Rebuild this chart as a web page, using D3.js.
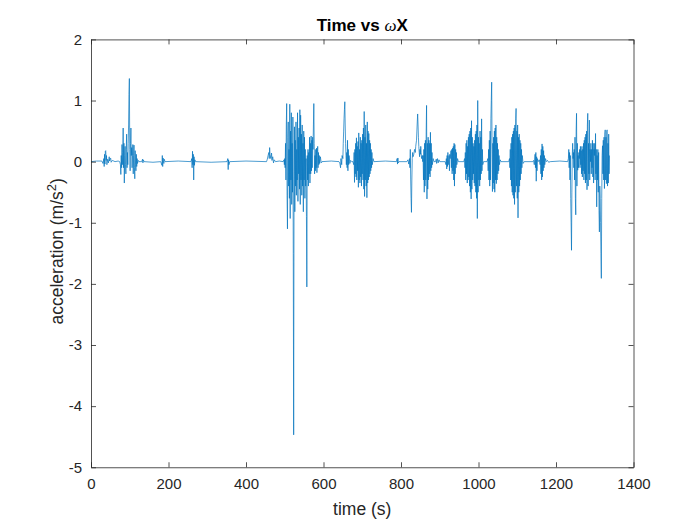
<!DOCTYPE html>
<html>
<head>
<meta charset="utf-8">
<script src="https://cdn.jsdelivr.net/npm/d3@7"></script>
<style>
  body { margin: 0; background: #fff; }
  svg { display: block; font-family: "Liberation Sans", Arial, Helvetica, sans-serif; }
</style>
</head>
<body>
<div id="chart"></div>
<script>
// axis ticks
const xTicks = [0, 200, 400, 600, 800, 1000, 1200, 1400];
const yTicks = [-5, -4, -3, -2, -1, 0, 1, 2];

// [time (s), omegaX], one array per burst of motion
const lead = [[0, 0], [14, 0.01], [28, 0.01], [31, -0.03], [33, 0.05], [34, -0.08], [35, 0.12], [36, -0.04],
  [37, 0.17], [38, 0.18], [39, 0.02], [40, 0.1], [41, -0.05], [43, 0.04], [45, -0.02], [47, 0.08], [48, 0.01],
  [50, 0.06], [51, 0.05], [52, -0.01], [55, 0.02], [62, 0], [70, 0.01]];

const burstA = [[74, 0], [76, -0.05], [77, -0.21], [78, 0.1], [79, -0.1], [80, 0.28], [81, -0.05], [82, 0.15],
  [83, 0.55], [84, -0.1], [85, 0.3], [86, -0.35], [87, 0.1], [88, 0.25], [89, -0.05], [90, -0.2], [91, 0.2],
  [92, 0.45], [93, -0.1], [94, 0.15], [95, -0.05], [96, 0.3], [97, 0.6], [98, 1.1], [99, 1.36], [100, 0.2],
  [101, -0.15], [102, 0.3], [103, 0.55], [104, 0.1], [105, 0.23], [106, -0.1], [107, 0.1], [108, 0.28],
  [109, -0.2], [110, 0.1], [111, 0.27], [112, -0.1], [113, -0.28], [114, 0.18], [115, -0.05], [116, -0.15],
  [117, 0.12], [118, -0.08], [119, 0.05], [120, -0.03], [122, 0.02], [124, 0]];

const smallBlips = [[131, 0], [133, 0.04], [134, -0.02], [135, 0.03], [137, 0], [160, -0.01],
  [180, 0], [183, -0.06], [184, 0.1], [185, -0.08], [186, 0.06], [187, 0.02], [188, -0.03], [189, 0.04], [191, 0],
  [225, 0.01], [258, 0], [260, 0.05], [261, -0.1], [262, 0.17], [263, -0.05], [264, 0.12], [265, -0.3],
  [266, 0.08], [267, -0.06], [268, 0.03], [270, 0], [310, -0.01],
  [351, 0], [353, 0.05], [354, -0.13], [355, 0.03], [356, -0.05], [358, 0], [400, 0.01],
  [453, 0], [455, 0.04], [457, 0.1], [459, 0.15], [460, 0.05], [461, 0.23], [462, 0.12], [464, 0.05],
  [466, 0.14], [467, 0.02], [469, 0.08], [471, -0.02], [473, 0.03], [476, 0], [486, 0.01]];

const burstB = [[496, 0], [498, 0.03], [499, -0.05], [500, 0.05], [501, -0.1], [502, 0.3], [503, -0.3],
  [504, 0.6], [505, 0.95], [506, -0.55], [507, -1.1], [508, 0.4], [509, 0.65], [510, -0.4], [511, 0.2],
  [512, -0.6], [513, 0.94], [514, -0.93], [515, 0.5], [516, -0.3], [517, 0.8], [518, -0.7], [519, 0.3],
  [520, -0.5], [521, 0.73], [522, -1.5], [523, -4.47], [524, -0.3], [525, 0.57], [526, -0.82], [527, 0.35],
  [528, -0.4], [529, 0.65], [530, -0.55], [531, 0.2], [532, -0.3], [533, 0.8], [534, -0.65], [535, 0.4],
  [536, -0.2], [537, 0.55], [538, -0.45], [539, 0.85], [540, -0.7], [541, 0.76], [542, -0.3], [543, 0.45],
  [544, -0.55], [545, 0.6], [546, -0.4], [547, 0.3], [548, -0.82], [549, 0.5], [550, -0.3], [551, 0.4],
  [552, -0.6], [553, 0.2], [554, -0.4], [555, 0.05], [556, -0.9], [557, -2.05], [558, 0.1], [559, -0.3],
  [560, 0.2], [561, -0.4], [562, 0.15], [563, -0.2], [564, 0.4], [565, -0.35], [566, 0.3], [567, -0.2],
  [568, 0.42], [569, -0.15], [570, 0.35], [571, -0.1], [572, 0.4], [573, 0.2], [574, 0.6], [575, 0.95],
  [576, 0.3], [577, -0.2], [578, 0.1], [579, -0.15], [580, 0.2], [581, -0.1], [582, 0.22], [583, -0.18],
  [584, 0.1], [585, 0.25], [586, -0.1], [587, 0.15], [588, -0.05], [589, 0.1], [590, -0.03], [592, 0.08],
  [594, -0.02], [596, 0], [620, 0.01]];

const burstC = [[640, 0], [642, -0.02], [644, -0.1], [645, 0.05], [647, -0.05], [648, 0.1], [650, 0.05],
  [651, 0.3], [652, 0.5], [653, 0.7], [654, 0.85], [655, 0.98], [656, 0.6], [657, 0.3], [658, 0.1],
  [659, -0.05], [660, 0.15], [661, -0.1], [662, 0.35], [663, -0.15], [664, 0.2], [665, -0.05], [666, 0.1],
  [668, -0.03], [670, 0.02], [673, 0], [676, 0], [678, -0.05], [679, 0.15], [680, -0.34], [681, 0.2],
  [682, -0.2], [683, 0.3], [684, -0.25], [685, 0.39], [686, -0.3], [687, 0.25], [688, -0.15], [689, 0.33],
  [690, -0.42], [691, 0.47], [692, -0.3], [693, 0.2], [694, -0.35], [695, 0.4], [696, -0.25], [697, 0.3],
  [698, -0.4], [699, 0.35], [700, -0.2], [701, 0.45], [702, -0.3], [703, 0.55], [704, -0.45], [705, 0.82],
  [706, -0.57], [707, 0.4], [708, -0.3], [709, 0.6], [710, -0.4], [711, 0.3], [712, -0.59], [713, 0.65],
  [714, -0.35], [715, 0.5], [716, -0.3], [717, 0.46], [718, -0.25], [719, 0.35], [720, -0.2], [721, 0.3],
  [722, -0.15], [723, 0.2], [724, -0.1], [725, 0.15], [726, -0.05], [728, 0.05], [730, 0], [760, 0.01],
  [788, 0], [790, 0.05], [791, -0.04], [792, 0.06], [793, -0.02], [795, 0]];

const burstD = [[815, 0], [818, 0.03], [820, -0.04], [822, 0.05], [823, -0.1], [824, 0.2], [825, -0.3],
  [826, -0.6], [827, -0.83], [828, -0.3], [829, 0.05], [830, 0.15], [831, 0.08], [833, 0.12], [835, 0.2],
  [837, 0.15], [838, 0.25], [840, 0.35], [841, 0.5], [842, 0.65], [843, 0.78], [844, 0.6], [845, 0.4],
  [846, 0.25], [847, 0.15], [848, 0.08], [849, 0.2], [850, 0.12], [851, 0.25], [852, 0.15], [853, 0.05],
  [855, 0.1], [856, 0], [857, 0.1], [858, -0.3], [859, 0.2], [860, -0.5], [861, 0.3], [862, -0.4],
  [863, 0.35], [864, -0.3], [865, 0.5], [866, 0.92], [867, -0.61], [868, 0.3], [869, -0.45], [870, 0.4],
  [871, -0.3], [872, 0.35], [873, -0.2], [874, 0.3], [875, -0.25], [876, 0.48], [877, -0.15], [878, 0.3],
  [879, -0.1], [880, 0.15], [881, -0.05], [883, 0.05], [885, 0],
  [889, 0], [891, 0.04], [892, -0.03], [894, 0.05], [896, -0.02], [898, 0.03], [900, 0],
  [914, 0], [916, -0.05], [917, 0.05], [918, -0.12], [919, 0.1], [920, -0.08], [921, 0.15], [922, -0.05],
  [924, 0.1], [925, -0.15], [926, 0.12], [927, 0.05], [929, 0.18], [930, -0.1], [931, 0.2], [932, -0.2],
  [933, 0.22], [934, -0.15], [935, 0.25], [936, -0.3], [937, 0.3], [938, -0.4], [939, 0.28], [940, -0.2],
  [941, 0.2], [942, -0.1], [943, 0.15], [944, -0.05], [946, 0.05], [948, 0]];

const burstE = [[962, 0], [964, 0.05], [965, -0.1], [966, 0.15], [967, -0.3], [968, 0.3], [969, -0.2],
  [970, 0.35], [971, -0.35], [972, 0.25], [973, -0.3], [974, 0.4], [975, -0.25], [976, 0.45], [977, -0.4],
  [978, 0.5], [979, -0.5], [980, 0.55], [981, -0.61], [982, 0.67], [983, -0.45], [984, 0.4], [985, -0.3],
  [986, 0.3], [987, -0.2], [988, 0.25], [989, -0.35], [990, 0.35], [991, -0.4], [992, 0.45], [993, -0.5],
  [994, 0.5], [995, -0.6], [996, 0.6], [997, -0.93], [998, 1.0], [999, -0.5], [1000, 0.4], [1001, -0.3],
  [1002, 0.3], [1003, -0.4], [1004, 0.5], [1005, -0.3], [1006, 0.4], [1007, -0.2], [1008, 0.7],
  [1009, -0.15], [1010, 0.2], [1011, -0.05], [1013, 0],
  [1022, 0], [1024, 0.05], [1025, -0.15], [1026, 0.2], [1027, -0.3], [1028, 0.35], [1029, -0.4],
  [1030, 0.5], [1031, -0.3], [1032, 0.7], [1033, 1.0], [1034, 1.3], [1035, 0.2], [1036, -0.49], [1037, 0.3],
  [1038, -0.35], [1039, 0.4], [1040, -0.45], [1041, 0.5], [1042, -0.5], [1043, 0.55], [1044, -0.3],
  [1045, 0.6], [1046, -0.36], [1047, 0.4], [1048, -0.3], [1049, 0.3], [1050, -0.2], [1051, 0.2],
  [1052, -0.15], [1053, 0.1], [1054, -0.05], [1056, 0.03], [1058, 0]];

const burstF = [[1078, 0], [1080, 0.05], [1081, -0.1], [1082, 0.2], [1083, -0.3], [1084, 0.3], [1085, -0.4],
  [1086, 0.4], [1087, -0.5], [1088, 0.45], [1089, -0.55], [1090, 0.5], [1091, -0.6], [1092, 0.55],
  [1093, -0.7], [1094, 0.6], [1095, -0.5], [1096, 0.7], [1097, 0.87], [1098, -0.4], [1099, 0.5],
  [1100, -0.6], [1101, 0.6], [1102, -0.92], [1103, 0.4], [1104, -0.5], [1105, 0.45], [1106, -0.4],
  [1107, 0.35], [1108, -0.3], [1109, 0.3], [1110, -0.2], [1111, 0.2], [1112, -0.1], [1113, 0.1],
  [1115, -0.03], [1118, 0],
  [1140, 0], [1142, 0.02], [1144, -0.05], [1146, 0.12], [1147, -0.1], [1148, 0.15], [1149, -0.32],
  [1150, 0.08], [1151, -0.15], [1152, 0.05], [1154, 0], [1157, 0.03], [1159, -0.05], [1160, 0.1],
  [1161, -0.2], [1162, 0.2], [1163, -0.3], [1164, 0.29], [1165, -0.25], [1166, 0.25], [1167, -0.15],
  [1168, 0.18], [1169, -0.1], [1170, 0.1], [1171, -0.05], [1173, 0.05], [1175, 0], [1178, 0.02],
  [1181, -0.01], [1185, 0], [1210, 0.01]];

const burstG = [[1230, 0], [1232, 0.05], [1233, 0.2], [1234, -0.1], [1235, 0.15], [1236, -0.3], [1237, 0.1],
  [1238, -0.6], [1239, -1.0], [1240, -1.45], [1241, -0.5], [1242, 0.1], [1243, 0.3], [1244, 0.05],
  [1245, 0.15], [1246, -0.1], [1247, 0.2], [1248, -0.3], [1249, 0.4], [1250, -0.6], [1251, -0.87],
  [1252, 0.5], [1253, 0.79], [1254, -0.4], [1255, 0.3], [1256, -0.14], [1257, 0.1], [1258, -0.1],
  [1259, 0.15], [1260, 0.05], [1261, 0.2], [1262, -0.1], [1263, 0.25], [1264, -0.05], [1265, 0.18],
  [1266, -0.2], [1267, 0.25], [1268, -0.25], [1269, 0.2], [1270, -0.15], [1271, 0.3], [1272, -0.3],
  [1273, 0.35], [1274, -0.2], [1275, 0.4], [1276, -0.35], [1277, 0.45], [1278, -0.3], [1279, 0.5],
  [1280, -0.46], [1281, 0.6], [1282, 0.79], [1283, -0.4], [1284, 0.3], [1285, -0.2], [1286, 0.68],
  [1287, -0.3], [1288, 0.2], [1289, 0], [1290, 0.3], [1291, -0.2], [1292, 0.2], [1293, -0.1], [1294, 0.35],
  [1295, -0.25], [1296, 0.3], [1297, -0.35], [1298, 0.2], [1299, 0.1], [1300, 0.3], [1301, -0.3],
  [1302, 0.46], [1303, -0.2], [1304, 0.2], [1305, -0.74], [1306, 0.1], [1307, -0.3], [1308, 0.2],
  [1309, -0.5], [1310, 0.15], [1311, -0.8], [1312, -1.15], [1313, -0.4], [1314, -0.6], [1315, -1.0],
  [1316, -1.5], [1317, -1.91], [1318, -0.6], [1319, 0.1], [1320, 0.26], [1321, -0.2], [1322, 0.35],
  [1323, -0.3], [1324, 0.4], [1325, -0.44], [1326, 0.45], [1327, 0.52], [1328, -0.3], [1329, 0.4],
  [1330, -0.36], [1331, 0.5], [1332, 0.52], [1333, -0.4], [1334, 0.3], [1335, -0.35], [1336, 0.45],
  [1337, -0.2], [1338, 0.1]];

const series = [].concat(lead, burstA, smallBlips, burstB, burstC, burstD, burstE, burstF, burstG)
  .sort((a, b) => a[0] - b[0]);

const width = 700, height = 525;
// MATLAB default axes box
const plot = { left: 91, right: 633.5, top: 39.4, bottom: 467.25 };
const axisColor = '#262626';
const plainNum = d => String(d); // 1400 not 1,400, plain hyphen for minus

const svg = d3.select('#chart').append('svg')
  .attr('width', width)
  .attr('height', height);

const x = d3.scaleLinear().domain([0, 1400]).range([plot.left, plot.right]);
const y = d3.scaleLinear().domain([-5, 2]).range([plot.bottom, plot.top]);

const line = d3.line().x(d => x(d[0])).y(d => y(d[1]));

svg.append('path')
  .datum(series)
  .attr('fill', 'none')
  .attr('stroke', '#0072BD')
  .attr('stroke-width', 0.7)
  .attr('stroke-linejoin', 'round')
  .attr('d', line);

// four sides, ticks pointing inwards
const tickLen = 5;
const gBottom = svg.append('g').attr('transform', `translate(0,${plot.bottom})`)
  .call(d3.axisBottom(x).tickValues(xTicks).tickFormat(plainNum)
    .tickSizeInner(-tickLen).tickSizeOuter(0).tickPadding(11));
const gTop = svg.append('g').attr('transform', `translate(0,${plot.top})`)
  .call(d3.axisTop(x).tickValues(xTicks).tickSizeInner(-tickLen).tickSizeOuter(0).tickFormat(''));
const gLeft = svg.append('g').attr('transform', `translate(${plot.left},0)`)
  .call(d3.axisLeft(y).tickValues(yTicks).tickFormat(plainNum)
    .tickSizeInner(-tickLen).tickSizeOuter(0).tickPadding(9));
const gRight = svg.append('g').attr('transform', `translate(${plot.right},0)`)
  .call(d3.axisRight(y).tickValues(yTicks).tickSizeInner(-tickLen).tickSizeOuter(0).tickFormat(''));

[gBottom, gTop, gLeft, gRight].forEach(g => {
  g.select('.domain').attr('stroke', axisColor).attr('stroke-width', 0.8);
  g.selectAll('.tick line').attr('stroke', axisColor).attr('stroke-width', 0.8);
  g.selectAll('.tick text')
    .attr('fill', axisColor)
    .style('font-family', '"Liberation Sans", Arial, sans-serif')
    .style('font-size', '15px');
});

// axis labels
svg.append('text')
  .attr('x', (plot.left + plot.right) / 2)
  .attr('y', 515)
  .attr('text-anchor', 'middle')
  .attr('fill', axisColor)
  .style('font-size', '17.5px')
  .text('time (s)');

const yLab = svg.append('text')
  .attr('transform', `translate(63,${(plot.top + plot.bottom) / 2 - 2}) rotate(-90)`)
  .attr('text-anchor', 'middle')
  .attr('fill', axisColor)
  .style('font-size', '17.5px');
yLab.append('tspan').text('acceleration (m/s');
yLab.append('tspan').attr('dy', -7).style('font-size', '13px').text('2');
yLab.append('tspan').attr('dy', 7).text(')');

// title with the greek omega in italics
const title = svg.append('text')
  .attr('x', (plot.left + plot.right) / 2)
  .attr('y', 31)
  .attr('text-anchor', 'middle')
  .attr('fill', '#000')
  .style('font-size', '17px')
  .style('font-weight', 'bold');
title.append('tspan').text('Time vs ');
title.append('tspan')
  .style('font-family', '"Liberation Serif", "DejaVu Serif", serif')
  .style('font-style', 'italic')
  .style('font-weight', 'normal')
  .text('ω');
title.append('tspan').text('X');
</script>
</body>
</html>
